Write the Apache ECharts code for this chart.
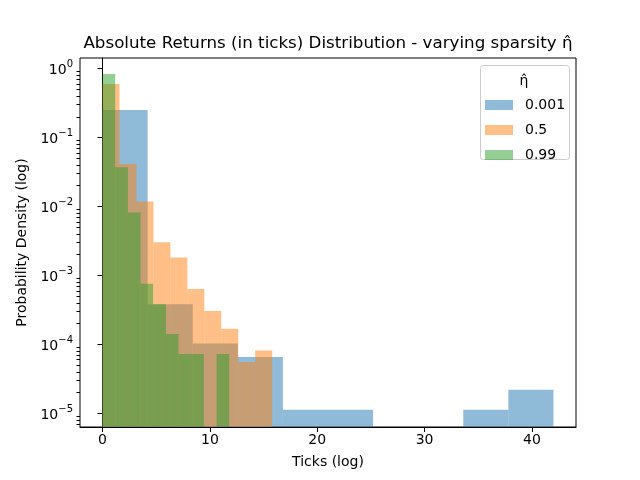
<!DOCTYPE html>
<html>
<head>
<meta charset="utf-8">
<script src="https://cdn.jsdelivr.net/npm/echarts@6/dist/echarts.min.js"></script>
<style>
  html, body { margin: 0; padding: 0; background: #fff; }
  #chart { width: 640px; height: 480px; }
</style>
</head>
<body>
<div id="chart"></div>
<script>
// bin edges (ticks) and density per bin, one list per sparsity value
const seriesNames = ['0.001', '0.5', '0.99'];
const edges001 = [0, 4.2, 8.4, 12.6, 16.8, 21, 25.2, 29.4, 33.6, 37.8, 42];
const dens001 = [0.248, 3.8e-4, 1.02e-4, 6.5e-5, 1.12e-5, 1.12e-5, 0, 0, 1.12e-5, 2.18e-5];
const edges05 = [0, 1.58, 3.16, 4.74, 6.32, 7.9, 9.48, 11.06, 12.64, 14.22, 15.8];
const dens05 = [0.59, 0.041, 0.0117, 0.003, 0.0018, 6.3e-4, 3.04e-4, 1.67e-4, 5.5e-5, 8.1e-5];
const edges099 = [0, 1.18, 2.36, 3.54, 4.72, 5.9, 7.08, 8.26, 9.44, 10.62, 11.8];
const dens099 = [0.826, 0.0367, 0.0081, 7.5e-4, 3.8e-4, 1.41e-4, 7.2e-5, 7.2e-5, 0, 7.2e-5];

const xTicks = [0, 10, 20, 30, 40];
const yTicks = [1e-5, 1e-4, 1e-3, 1e-2, 1e-1, 1];
const yMinorTicks = [];
for (let k = -6; k <= 0; k++) {
  for (let m = 2; m <= 9; m++) {
    const v = m * Math.pow(10, k);
    if (v > 6.3e-6 && v < 1.41) yMinorTicks.push(v);
  }
}

const colors = ['rgba(31,119,180,0.5)', 'rgba(255,127,14,0.5)', 'rgba(44,160,44,0.5)'];

function toBins(edges, dens) {
  const out = [];
  for (let i = 0; i < dens.length; i++) {
    if (dens[i] > 0) out.push([edges[i], edges[i + 1], dens[i]]);
  }
  return out;
}

function renderBar(params, api) {
  const p0 = api.coord([api.value(0), api.value(2)]);
  const p1 = api.coord([api.value(1), api.value(2)]);
  const bottom = params.coordSys.y + params.coordSys.height;
  return {
    type: 'rect',
    shape: { x: p0[0], y: p0[1], width: p1[0] - p0[0], height: bottom - p0[1] },
    style: { fill: api.visual('color') }
  };
}

// minor log ticks, short marks left of the y axis
function renderMinorTick(params, api) {
  const p = api.coord([api.value(0), api.value(1)]);
  const x = params.coordSys.x;
  const y = Math.round(p[1]) + 0.5;
  return {
    type: 'line',
    shape: { x1: x - 3.5, y1: y, x2: x, y2: y },
    style: { stroke: '#000', lineWidth: 1 }
  };
}

const font = 'DejaVu Sans';
const chart = echarts.init(document.getElementById('chart'));

function powLabel(v) {
  const e = Math.round(Math.log10(v));
  const s = String(e).replace('-', '\u2212');
  return '{b|10}{s|' + s + '}';
}

const binsList = [toBins(edges001, dens001), toBins(edges05, dens05), toBins(edges099, dens099)];

const series = seriesNames.map((name, i) => ({
  name: name,
  type: 'custom',
  renderItem: renderBar,
  color: colors[i],
  itemStyle: { color: colors[i] },
  encode: { x: [0, 1], y: 2 },
  data: binsList[i],
  z: 2 + i
}));
series.push({
  name: 'minor',
  type: 'custom',
  renderItem: renderMinorTick,
  clip: false,
  encode: { x: 0, y: 1 },
  data: yMinorTicks.map(v => [0, v]),
  z: 10
});

chart.setOption({
  animation: false,
  textStyle: { fontFamily: font },
  title: {
    text: 'Absolute Returns (in ticks) Distribution - varying sparsity \u03b7\u0302',
    left: 323,
    top: 30,
    textAlign: 'center',
    textStyle: { fontFamily: font, fontSize: 16.7, fontWeight: 'normal', color: '#000' }
  },
  grid: {
    left: 80, right: 64, top: 58, bottom: 53,
    show: true, borderColor: '#000', borderWidth: 1, backgroundColor: 'transparent'
  },
  legend: {
    orient: 'vertical',
    left: 485,
    top: 98,
    padding: 0,
    itemWidth: 28,
    itemHeight: 10,
    itemGap: 11,
    icon: 'rect',
    data: seriesNames,
    textStyle: { fontFamily: font, fontSize: 14, color: '#000', lineHeight: 10, padding: [0, 0, 0, 7] }
  },
  graphic: [
    {
      type: 'rect',
      shape: { x: 480.5, y: 65.5, width: 89, height: 94, r: 3 },
      style: { fill: 'rgba(255,255,255,0.8)', stroke: '#ccc', lineWidth: 1 },
      z: 0
    },
    {
      type: 'text',
      x: 524, y: 81,
      style: { text: '\u03b7\u0302', font: '14px "DejaVu Sans"', fill: '#000', align: 'center', verticalAlign: 'middle' },
      z: 1
    }
  ],
  xAxis: {
    type: 'value',
    min: -2.1,
    max: 44.1,
    name: 'Ticks (log)',
    nameLocation: 'middle',
    nameGap: 28,
    nameTextStyle: { fontFamily: font, fontSize: 14, color: '#000' },
    splitLine: { show: false },
    axisLine: { show: true, onZero: false, lineStyle: { color: '#000' } },
    axisTick: { show: true, length: 5, customValues: xTicks, lineStyle: { color: '#000' } },
    axisLabel: { customValues: xTicks, fontFamily: font, fontSize: 14, color: '#000', margin: 6 }
  },
  yAxis: {
    type: 'log',
    logBase: 10,
    min: 6.3e-6,
    max: 1.41,
    name: 'Probability Density (log)',
    nameLocation: 'middle',
    nameGap: 51,
    nameTextStyle: { fontFamily: font, fontSize: 14, color: '#000' },
    splitLine: { show: false },
    axisLine: { show: true, lineStyle: { color: '#000' } },
    axisTick: { show: true, length: 5, customValues: yTicks, lineStyle: { color: '#000' } },
    axisLabel: {
      customValues: yTicks,
      margin: 7,
      formatter: powLabel,
      rich: {
        b: { fontFamily: font, fontSize: 14, color: '#000', verticalAlign: 'bottom', lineHeight: 18 },
        s: { fontFamily: font, fontSize: 10, color: '#000', verticalAlign: 'top', lineHeight: 18 }
      }
    }
  },
  series: series
});
</script>
</body>
</html>
